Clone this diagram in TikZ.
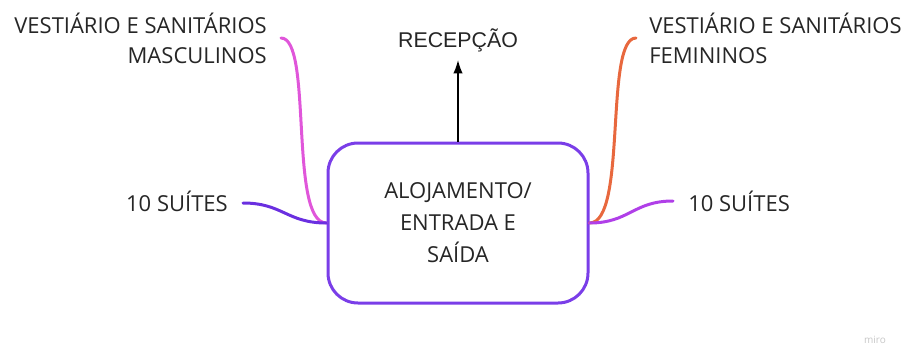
\documentclass[tikz,border=0pt]{standalone}
\usepackage{fontspec}
\setmainfont{Open Sans}
\newfontfamily\receptfont{Liberation Sans}
\usetikzlibrary{arrows.meta}
\definecolor{boxviolet}{HTML}{7A3EE8}
\definecolor{suiteviolet}{HTML}{6A2FE0}
\definecolor{suitepurple}{HTML}{B03FE8}
\definecolor{mascpink}{HTML}{E056DA}
\definecolor{feminorange}{HTML}{E8683E}
\definecolor{labelgray}{HTML}{262626}
\begin{document}
\begin{tikzpicture}[x=0.75pt,y=-0.75pt,
    lbl/.style={inner sep=0pt, text=labelgray, font=\fontsize{16.5}{22.5}\selectfont},
    branch/.style={line width=2.25pt, line cap=round}]
        \useasboundingbox (0,0) rectangle (907,347);
        \node[draw=boxviolet, line width=2.25pt, rounded corners=22.5pt, minimum width=195pt, minimum height=120pt,
              align=center, text=labelgray, font=\fontsize{16.5}{24}\selectfont] (aloj) at (458,223) {ALOJAMENTO/\\ENTRADA E\\SAÍDA};
        \node[lbl, align=right, anchor=base east] (masc) at (267,63) {VESTIÁRIO E SANITÁRIOS\\MASCULINOS};
        \node[lbl, align=left, anchor=base west] (femin) at (649,63) {VESTIÁRIO E SANITÁRIOS\\FEMININOS};
        \node[lbl, anchor=base east] (suitesL) at (228,211) {10 SUÍTES};
        \node[lbl, anchor=base west] (suitesR) at (688,211) {10 SUÍTES};
        \node[lbl, anchor=base, text=black!85, font=\receptfont\fontsize{16}{18}\selectfont] (recep) at (458,47) {RECEPÇÃO};
        \node[text=black!22, font=\fontsize{7.5}{9}\selectfont, inner sep=0pt] (miro) at (875,340) {miro};
        \coordinate (mascEnd) at (281,38);
        \coordinate (feminEnd) at (636,38);
        \coordinate (suitesLEnd) at (243,203);
        \coordinate (suitesREnd) at (673,201);
        \coordinate (recepEnd) at (458,60);
        \draw[branch, mascpink] (aloj.west) .. controls +(-38,0) and +(32,0) .. (mascEnd);
        \draw[branch, suiteviolet] (aloj.west) .. controls +(-40,0) and +(40,0) .. (suitesLEnd);
        \draw[branch, feminorange] (aloj.east) .. controls +(38,0) and +(-32,0) .. (feminEnd);
        \draw[branch, suitepurple] (aloj.east) .. controls +(40,0) and +(-40,0) .. (suitesREnd);
        \draw[line width=1.1pt, -{Latex[length=10pt,width=7pt]}] (aloj.north) -- (recepEnd);
    \end{tikzpicture}
\end{document}
